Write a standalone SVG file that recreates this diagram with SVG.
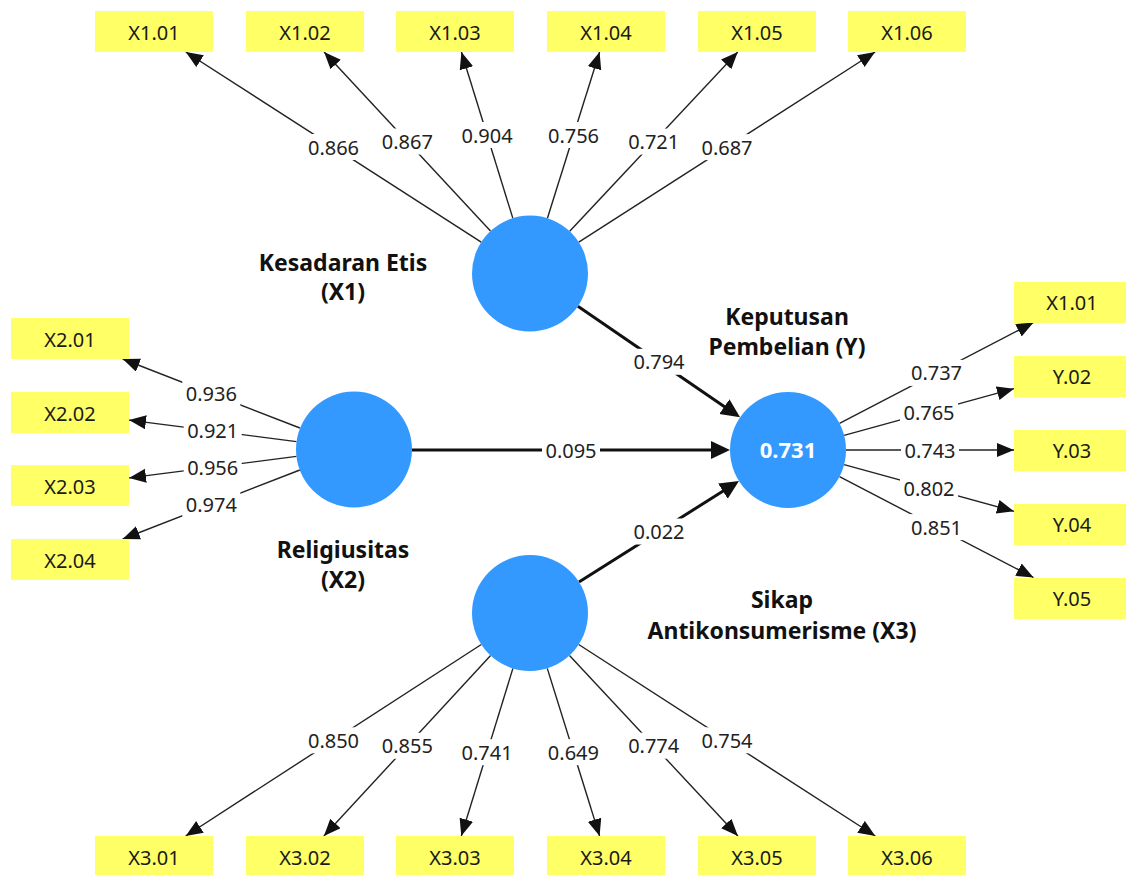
<svg xmlns="http://www.w3.org/2000/svg" width="1126" height="875" viewBox="0 0 1126 875">
<style>
.ind rect{fill:#FFFF66}
.ind text{font-family:"Noto Sans","Open Sans",sans-serif;font-size:20px;fill:#1a1a1a;text-anchor:middle}
.lv circle{fill:#3399FF}
.cname{font-family:"Noto Sans","Open Sans",sans-serif;font-size:23px;font-weight:bold;fill:#111;text-anchor:middle}
.r2{font-family:"Noto Sans","Open Sans",sans-serif;font-size:22px;font-weight:bold;fill:#fff;text-anchor:middle}
.thin{stroke:#222;stroke-width:1.4;fill:none;marker-end:url(#ah)}
.thick{stroke:#111;stroke-width:3;fill:none;marker-end:url(#ahB)}
.lb rect{fill:#fff}
.lb text{font-family:"Noto Sans","Open Sans",sans-serif;font-size:20px;fill:#222;text-anchor:middle}
</style>
<defs>
<marker id="ah" markerUnits="userSpaceOnUse" markerWidth="18" markerHeight="15" refX="17" refY="7" orient="auto"><path d="M0,0 L17,7 L0,14 z" fill="#111"/></marker>
<marker id="ahB" markerUnits="userSpaceOnUse" markerWidth="20" markerHeight="19" refX="13" refY="9" orient="auto"><path d="M0,0 L19,9 L0,18 z" fill="#111"/></marker>
</defs>
<rect width="1126" height="875" fill="#fff"/>
<g id="connectors">
<line class="thin" x1="481.2" y1="242.1" x2="185.8" y2="52"/>
<line class="thin" x1="490.5" y1="231" x2="324.1" y2="52"/>
<line class="thin" x1="512.8" y1="218.1" x2="461.4" y2="52"/>
<line class="thin" x1="547.4" y1="218.2" x2="599.6" y2="52"/>
<line class="thin" x1="569.7" y1="231.2" x2="737.8" y2="52"/>
<line class="thin" x1="578.8" y1="242.2" x2="875.1" y2="52"/>
<line class="thin" x1="481.3" y1="644.5" x2="185.7" y2="836"/>
<line class="thin" x1="490.6" y1="655.6" x2="323.9" y2="836"/>
<line class="thin" x1="512.9" y1="668.4" x2="461.3" y2="836"/>
<line class="thin" x1="547.3" y1="668.4" x2="599.6" y2="836"/>
<line class="thin" x1="569.5" y1="655.4" x2="737.9" y2="836"/>
<line class="thin" x1="578.7" y1="644.5" x2="875.3" y2="836"/>
<line class="thin" x1="299.9" y1="428" x2="122.7" y2="359"/>
<line class="thin" x1="296.5" y1="441.6" x2="129" y2="420.1"/>
<line class="thin" x1="296.5" y1="456.4" x2="129" y2="477.9"/>
<line class="thin" x1="299.9" y1="470" x2="122.7" y2="539"/>
<line class="thin" x1="839.5" y1="423.3" x2="1033.5" y2="322.5"/>
<line class="thin" x1="844.1" y1="435.4" x2="1014" y2="388.7"/>
<line class="thin" x1="846" y1="450" x2="1014" y2="450"/>
<line class="thin" x1="844.1" y1="464.6" x2="1014" y2="511.3"/>
<line class="thin" x1="839.5" y1="476.7" x2="1033.5" y2="577.5"/>
<line class="thick" x1="577.9" y1="306.2" x2="735.1" y2="413.9"/>
<line class="thick" x1="412" y1="450" x2="724" y2="450"/>
<line class="thick" x1="579" y1="582" x2="733.9" y2="484.2"/>
<g class="lb">
<rect x="304.5" y="134" width="58" height="26"/><text x="333.5" y="154.5">0.866</text>
<rect x="378.3" y="128.5" width="58" height="26"/><text x="407.3" y="149">0.867</text>
<rect x="458.1" y="122" width="58" height="26"/><text x="487.1" y="142.5">0.904</text>
<rect x="544.5" y="122" width="58" height="26"/><text x="573.5" y="142.6">0.756</text>
<rect x="624.7" y="128.6" width="58" height="26"/><text x="653.7" y="149.1">0.721</text>
<rect x="698" y="134.1" width="58" height="26"/><text x="727" y="154.6">0.687</text>
<rect x="304.5" y="727.3" width="58" height="26"/><text x="333.5" y="747.8">0.850</text>
<rect x="378.3" y="732.8" width="58" height="26"/><text x="407.3" y="753.3">0.855</text>
<rect x="458.1" y="739.2" width="58" height="26"/><text x="487.1" y="759.7">0.741</text>
<rect x="544.4" y="739.2" width="58" height="26"/><text x="573.4" y="759.7">0.649</text>
<rect x="624.7" y="732.7" width="58" height="26"/><text x="653.7" y="753.2">0.774</text>
<rect x="698" y="727.3" width="58" height="26"/><text x="727" y="747.8">0.754</text>
<rect x="182.3" y="380.5" width="58" height="26"/><text x="211.3" y="401">0.936</text>
<rect x="183.7" y="417.9" width="58" height="26"/><text x="212.7" y="438.4">0.921</text>
<rect x="183.7" y="454.2" width="58" height="26"/><text x="212.7" y="474.7">0.956</text>
<rect x="182.3" y="491.5" width="58" height="26"/><text x="211.3" y="512">0.974</text>
<rect x="907.5" y="359.9" width="58" height="26"/><text x="936.5" y="380.4">0.737</text>
<rect x="900" y="399" width="58" height="26"/><text x="929" y="419.5">0.765</text>
<rect x="901" y="437" width="58" height="26"/><text x="930" y="457.5">0.743</text>
<rect x="900" y="475" width="58" height="26"/><text x="929" y="495.5">0.802</text>
<rect x="907.5" y="514.1" width="58" height="26"/><text x="936.5" y="534.6">0.851</text>
<rect x="630" y="348.8" width="58" height="26"/><text x="659" y="369.3">0.794</text>
<rect x="542" y="437" width="58" height="26"/><text x="571" y="457.5">0.095</text>
<rect x="630" y="518.5" width="58" height="26"/><text x="659" y="539">0.022</text>
</g>
</g>
<g id="X1" class="lv"><circle cx="530" cy="273.5" r="58"/><text class="cname" x="343" y="271">Kesadaran Etis</text><text class="cname" x="343" y="300">(X1)</text></g>
<g id="X2" class="lv"><circle cx="354" cy="449.5" r="58"/><text class="cname" x="343" y="558">Religiusitas</text><text class="cname" x="343" y="588">(X2)</text></g>
<g id="X3" class="lv"><circle cx="530" cy="613" r="58"/><text class="cname" x="782" y="608">Sikap</text><text class="cname" x="782" y="639">Antikonsumerisme (X3)</text></g>
<g id="Y" class="lv"><circle cx="788" cy="450" r="58"/><text class="r2" x="788" y="458">0.731</text><text class="cname" x="787" y="325">Keputusan</text><text class="cname" x="787" y="355">Pembelian (Y)</text></g>
<g id="X1.01" class="ind"><rect x="95" y="11" width="118" height="41"/><text x="154" y="39.5">X1.01</text></g>
<g id="X1.02" class="ind"><rect x="246" y="11" width="118" height="41"/><text x="305" y="39.5">X1.02</text></g>
<g id="X1.03" class="ind"><rect x="396" y="11" width="118" height="41"/><text x="455" y="39.5">X1.03</text></g>
<g id="X1.04" class="ind"><rect x="547" y="11" width="118" height="41"/><text x="606" y="39.5">X1.04</text></g>
<g id="X1.05" class="ind"><rect x="698" y="11" width="118" height="41"/><text x="757" y="39.5">X1.05</text></g>
<g id="X1.06" class="ind"><rect x="848" y="11" width="118" height="41"/><text x="907" y="39.5">X1.06</text></g>
<g id="X2.01" class="ind"><rect x="11" y="318" width="118" height="41"/><text x="70" y="346.5">X2.01</text></g>
<g id="X2.02" class="ind"><rect x="11" y="392" width="118" height="41"/><text x="70" y="420.5">X2.02</text></g>
<g id="X2.03" class="ind"><rect x="11" y="465" width="118" height="41"/><text x="70" y="493.5">X2.03</text></g>
<g id="X2.04" class="ind"><rect x="11" y="539" width="118" height="41"/><text x="70" y="567.5">X2.04</text></g>
<g id="X3.01" class="ind"><rect x="95" y="836" width="118" height="41"/><text x="154" y="864.5">X3.01</text></g>
<g id="X3.02" class="ind"><rect x="246" y="836" width="118" height="41"/><text x="305" y="864.5">X3.02</text></g>
<g id="X3.03" class="ind"><rect x="396" y="836" width="118" height="41"/><text x="455" y="864.5">X3.03</text></g>
<g id="X3.04" class="ind"><rect x="547" y="836" width="118" height="41"/><text x="606" y="864.5">X3.04</text></g>
<g id="X3.05" class="ind"><rect x="698" y="836" width="118" height="41"/><text x="757" y="864.5">X3.05</text></g>
<g id="X3.06" class="ind"><rect x="848" y="836" width="118" height="41"/><text x="907" y="864.5">X3.06</text></g>
<g id="Y.01" class="ind"><rect x="1014" y="282" width="118" height="41"/><text x="1072" y="310">X1.01</text></g>
<g id="Y.02" class="ind"><rect x="1014" y="356" width="118" height="41"/><text x="1072" y="384">Y.02</text></g>
<g id="Y.03" class="ind"><rect x="1014" y="430" width="118" height="41"/><text x="1072" y="458">Y.03</text></g>
<g id="Y.04" class="ind"><rect x="1014" y="504" width="118" height="41"/><text x="1072" y="532">Y.04</text></g>
<g id="Y.05" class="ind"><rect x="1014" y="578" width="118" height="41"/><text x="1072" y="606">Y.05</text></g>
</svg>
